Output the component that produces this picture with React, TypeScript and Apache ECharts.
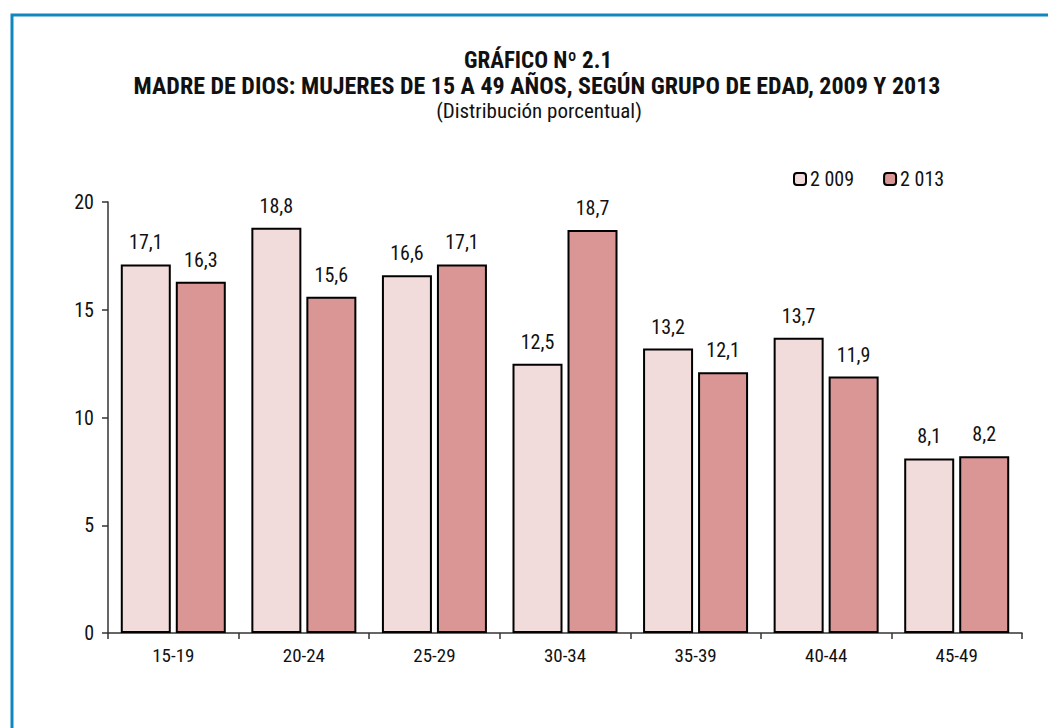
import React, { useEffect, useRef } from "react";
import * as echarts from "echarts";

const categories = ["15-19", "20-24", "25-29", "30-34", "35-39", "40-44", "45-49"];
const values2009 = [17.1, 18.8, 16.6, 12.5, 13.2, 13.7, 8.1];
const values2013 = [16.3, 15.6, 17.1, 18.7, 12.1, 11.9, 8.2];
const seriesNames = ["2 009", "2 013"];
const titleLines = [
  "GRÁFICO Nº 2.1",
  "MADRE DE DIOS: MUJERES DE 15 A 49 AÑOS, SEGÚN GRUPO DE EDAD, 2009 Y 2013",
  "(Distribución porcentual)",
];

const FONT = "'Roboto Condensed', 'Liberation Sans Narrow', 'Arial Narrow', sans-serif";

export default function App() {
  const ref = useRef<HTMLDivElement>(null);
  useEffect(() => {
    document.body.style.margin = "0";
    const chart = echarts.init(ref.current!, null, { renderer: "svg" });
    const fmt = (p: any) => Number(p.value).toFixed(1).replace(".", ",");
    const labelStyle = {
      show: true,
      position: "top" as const,
      distance: 12,
      formatter: fmt,
      fontFamily: FONT,
      fontSize: 20,
      color: "#111",
    };
    chart.setOption({
      animation: false,
      backgroundColor: "#fff",
      textStyle: { fontFamily: FONT },
      graphic: [
        {
          type: "rect",
          shape: { x: 12, y: 15, width: 1200, height: 900 },
          style: { fill: "none", stroke: "#1187C0", lineWidth: 3 },
          silent: true,
        },
        {
          type: "text",
          x: 538,
          y: 60,
          style: {
            text: titleLines[0],
            align: "center",
            verticalAlign: "middle",
            font: `bold 23px ${FONT}`,
            lineHeight: 23,
            fill: "#111",
          },
        },
        {
          type: "text",
          x: 537,
          y: 86,
          style: {
            text: titleLines[1],
            align: "center",
            verticalAlign: "middle",
            font: `bold 24px ${FONT}`,
            lineHeight: 24,
            fill: "#111",
          },
        },
        {
          type: "text",
          x: 539,
          y: 111,
          style: {
            text: titleLines[2],
            align: "center",
            verticalAlign: "middle",
            font: `21px ${FONT}`,
            lineHeight: 21,
            fill: "#111",
          },
        },
      ],
      legend: {
        left: 793,
        top: 169,
        padding: 0,
        itemWidth: 12,
        itemHeight: 12,
        itemGap: 29,
        textStyle: { fontFamily: FONT, fontSize: 20, color: "#111", padding: [0, 0, 0, -1] },
        data: seriesNames,
      },
      grid: { left: 108, right: 26, top: 202, bottom: 95 },
      xAxis: {
        type: "category",
        data: categories,
        axisLine: { lineStyle: { color: "#333", width: 1.5 } },
        axisTick: { show: true, length: 6, lineStyle: { color: "#333", width: 1.5 } },
        axisLabel: { fontFamily: FONT, fontSize: 19, color: "#111", margin: 13 },
      },
      yAxis: {
        type: "value",
        min: 0,
        max: 20,
        interval: 5,
        axisLine: { show: true, lineStyle: { color: "#333", width: 1.5 } },
        axisTick: { show: true, length: 6, lineStyle: { color: "#333", width: 1.5 } },
        splitLine: { show: false },
        axisLabel: { fontFamily: FONT, fontSize: 20, color: "#111", margin: 14 },
      },
      series: [
        {
          name: seriesNames[0],
          type: "bar",
          data: values2009,
          barWidth: 50,
          barGap: "10%",
          itemStyle: { color: "#F2DCDB", borderColor: "#000", borderWidth: 2 },
          label: labelStyle,
        },
        {
          name: seriesNames[1],
          type: "bar",
          data: values2013,
          barWidth: 50,
          itemStyle: { color: "#D99694", borderColor: "#000", borderWidth: 2 },
          label: labelStyle,
        },
      ],
    });
    return () => chart.dispose();
  }, []);
  return (
    <div
      ref={ref}
      style={{ position: "fixed", left: 0, top: 0, width: 1048, height: 728 }}
    />
  );
}
